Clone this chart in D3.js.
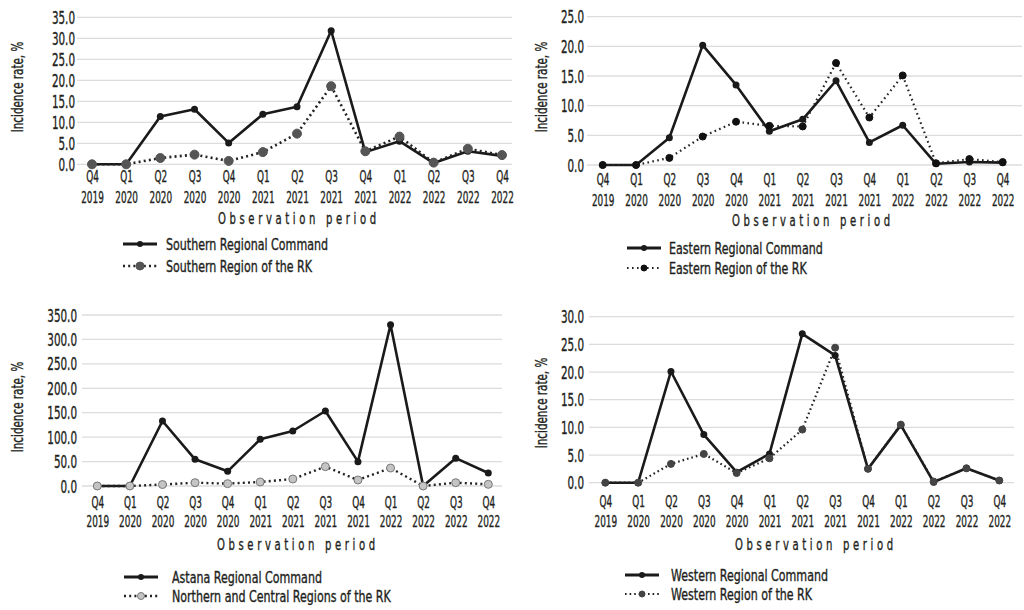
<!DOCTYPE html>
<html>
<head>
<meta charset="utf-8">
<script src="https://cdn.jsdelivr.net/npm/d3@7"></script>
<style>
  body { margin: 0; background: #fff; }
  text { font-family: "DejaVu Sans Condensed", "DejaVu Sans", sans-serif; fill: #231f20; stroke: #231f20; stroke-width: 0.35; }
</style>
</head>
<body>
<script>
// periods on the x axis
const quarters = ["Q4","Q1","Q2","Q3","Q4","Q1","Q2","Q3","Q4","Q1","Q2","Q3","Q4"];
const years = ["2019","2020","2020","2020","2020","2021","2021","2021","2021","2022","2022","2022","2022"];

// incidence rate, %
const southernCommand = [0, 0, 11.4, 13.1, 5.1, 11.9, 13.7, 31.8, 2.9, 5.5, 0.3, 3.1, 2.0];
const southernRegion  = [0, 0, 1.5, 2.3, 0.8, 2.9, 7.3, 18.6, 3.1, 6.6, 0.4, 3.7, 2.2];
const easternCommand  = [0, 0, 4.6, 20.2, 13.5, 5.7, 7.7, 14.2, 3.8, 6.7, 0.2, 0.5, 0.4];
const easternRegion   = [0, 0, 1.2, 4.8, 7.3, 6.6, 6.5, 17.2, 8.0, 15.1, 0.3, 1.0, 0.5];
const astanaCommand   = [0, 0, 133, 54.6, 30, 95.5, 112.6, 153.5, 49.8, 330, 0, 57, 26.6];
const northernRegion  = [0, 0, 3.0, 6.8, 4.8, 8.2, 14.3, 39.6, 12.3, 36.8, 0, 6.8, 3.4];
const westernCommand  = [0, 0, 20.1, 8.7, 1.9, 5.2, 26.9, 23.0, 2.5, 10.4, 0.1, 2.6, 0.4];
const westernRegion   = [0, 0, 3.4, 5.2, 1.75, 4.4, 9.6, 24.4, 2.5, 10.5, 0.2, 2.6, 0.4];

// y ticks per panel
const southernTicks = [0, 5, 10, 15, 20, 25, 30, 35];
const easternTicks = [0, 5, 10, 15, 20, 25];
const astanaTicks = [0, 50, 100, 150, 200, 250, 300, 350];
const westernTicks = [0, 5, 10, 15, 20, 25, 30];

const svg = d3.select("body").append("svg")
  .attr("width", 1024)
  .attr("height", 610);

const panels = [
  { solid: southernCommand, dotted: southernRegion, ticks: southernTicks,
    names: ["Southern Regional Command", "Southern Region of the RK"],
    x0: 92, x1: 502, yBottom: 164.3, yTop: 17.3, gl: 77, gr: 512, labelX: 75,
    titleX: 17, titleY: 87, qY: 177, yrY: 198, obsX: 297, obsY: 218,
    legX: 123, legY: 244, legGap: 22, legText: 43,
    dotMark: { r: 4.5, fill: "#555", stroke: "#555" }, dash: "2,3.2", dw: 2.6 },
  { solid: easternCommand, dotted: easternRegion, ticks: easternTicks,
    names: ["Eastern Regional Command", "Eastern Region of the RK"],
    x0: 602.7, x1: 1002.7, yBottom: 165, yTop: 16.7, gl: 587, gr: 1022, labelX: 584,
    titleX: 541, titleY: 87, qY: 180, yrY: 201, obsX: 811, obsY: 220,
    legX: 627, legY: 248, legGap: 20, legText: 42,
    dotMark: { r: 3.5, fill: "#111", stroke: "#111" }, dash: "1.6,3.4", dw: 2.2 },
  { solid: astanaCommand, dotted: northernRegion, ticks: astanaTicks,
    names: ["Astana Regional Command", "Northern and Central Regions of the RK"],
    x0: 97.3, x1: 488.3, yBottom: 486, yTop: 315, gl: 82, gr: 502, labelX: 77,
    titleX: 17, titleY: 407, qY: 503, yrY: 522, obsX: 296, obsY: 544,
    legX: 124, legY: 577, legGap: 19, legText: 48,
    dotMark: { r: 4, fill: "#c4c4c4", stroke: "#777" }, dash: "2,3.2", dw: 2.4 },
  { solid: westernCommand, dotted: westernRegion, ticks: westernTicks,
    names: ["Western Regional Command", "Western Region of the RK"],
    x0: 605.3, x1: 999.3, yBottom: 482.7, yTop: 316.7, gl: 589, gr: 1014, labelX: 584,
    titleX: 541, titleY: 403, qY: 502, yrY: 522, obsX: 814, obsY: 544,
    legX: 625, legY: 575, legGap: 19, legText: 46,
    dotMark: { r: 3.5, fill: "#444", stroke: "#444" }, dash: "1.6,3", dw: 2.2 }
];

panels.forEach(function(p) {
  const g = svg.append("g");
  const x = d3.scalePoint().domain(d3.range(quarters.length)).range([p.x0, p.x1]);
  const y = d3.scaleLinear().domain([0, d3.max(p.ticks)]).range([p.yBottom, p.yTop]);

  // grid lines
  g.selectAll(".grid").data(p.ticks).enter().append("line")
    .attr("x1", p.gl).attr("x2", p.gr)
    .attr("y1", d => y(d)).attr("y2", d => y(d))
    .attr("stroke", "#dcdcdc").attr("stroke-width", 1.3);

  // y axis
  const ya = g.append("g")
    .attr("transform", "translate(" + p.labelX + ",0)")
    .call(d3.axisLeft(y).tickValues(p.ticks).tickFormat(d3.format(".1f")).tickSize(0).tickPadding(0));
  ya.select(".domain").remove();
  ya.selectAll("text")
    .attr("font-size", 17).attr("font-family", null).attr("fill", "#231f20")
    .attr("dy", "0.36em").attr("transform", "scale(0.68,1)");

  // x labels (two lines)
  const xa = g.append("g")
    .attr("transform", "translate(0," + p.yBottom + ")")
    .call(d3.axisBottom(x).tickSize(0).tickFormat(""));
  xa.select(".domain").remove();
  xa.selectAll(".tick text").each(function(d) {
    const t = d3.select(this).attr("y", null).attr("dy", null)
      .attr("font-size", 15).attr("font-family", null).attr("fill", "#231f20")
      .attr("transform", "scale(0.66,1)");
    t.append("tspan").attr("x", 0).attr("y", p.qY - p.yBottom).attr("dy", "0.36em").text(quarters[d]);
    t.append("tspan").attr("x", 0).attr("y", p.yrY - p.yBottom).attr("dy", "0.36em").text(years[d]);
  });

  // axis titles
  g.append("text")
    .attr("transform", "translate(" + p.titleX + "," + p.titleY + ") rotate(-90) scale(0.72,1)")
    .attr("text-anchor", "middle").attr("dy", "0.36em")
    .attr("font-size", 16)
    .text("Incidence rate, %");

  g.append("text")
    .attr("transform", "translate(" + p.obsX + "," + p.obsY + ") scale(0.7,1)")
    .attr("text-anchor", "middle").attr("dy", "0.36em").attr("font-size", 16)
    .attr("textLength", 226).attr("lengthAdjust", "spacing")
    .text("Observation period");

  // lines
  const line = d3.line().x((d, i) => x(i)).y(d => y(d));
  g.append("path").datum(p.solid).attr("d", line)
    .attr("fill", "none").attr("stroke", "#1a1a1a").attr("stroke-width", 2.6).attr("stroke-linejoin", "round");
  g.append("path").datum(p.dotted).attr("d", line)
    .attr("fill", "none").attr("stroke", "#222").attr("stroke-width", p.dw).attr("stroke-dasharray", p.dash);

  g.selectAll(".ms").data(p.solid).enter().append("circle")
    .attr("cx", (d, i) => x(i)).attr("cy", d => y(d)).attr("r", 3.5).attr("fill", "#1a1a1a");
  g.selectAll(".md").data(p.dotted).enter().append("circle")
    .attr("cx", (d, i) => x(i)).attr("cy", d => y(d)).attr("r", p.dotMark.r)
    .attr("fill", p.dotMark.fill).attr("stroke", p.dotMark.stroke).attr("stroke-width", 1);

  // legend
  const legend = g.append("g").attr("transform", "translate(" + p.legX + "," + p.legY + ")");
  legend.append("line").attr("x1", 0).attr("x2", 34).attr("y1", 0).attr("y2", 0)
    .attr("stroke", "#1a1a1a").attr("stroke-width", 2.8);
  legend.append("circle").attr("cx", 17).attr("cy", 0).attr("r", 3).attr("fill", "#1a1a1a");
  legend.append("line").attr("x1", 0).attr("x2", 34).attr("y1", p.legGap).attr("y2", p.legGap)
    .attr("stroke", "#222").attr("stroke-width", p.dw).attr("stroke-dasharray", p.dash);
  legend.append("circle").attr("cx", 17).attr("cy", p.legGap).attr("r", p.dotMark.r - 0.5)
    .attr("fill", p.dotMark.fill).attr("stroke", p.dotMark.stroke);
  legend.selectAll(".lt").data(p.names).enter().append("text")
    .attr("transform", (d, i) => "translate(" + p.legText + "," + (i * p.legGap) + ") scale(0.77,1)")
    .attr("dy", "0.36em")
    .attr("font-size", 16)
    .text(d => d);
});
</script>
</body>
</html>
